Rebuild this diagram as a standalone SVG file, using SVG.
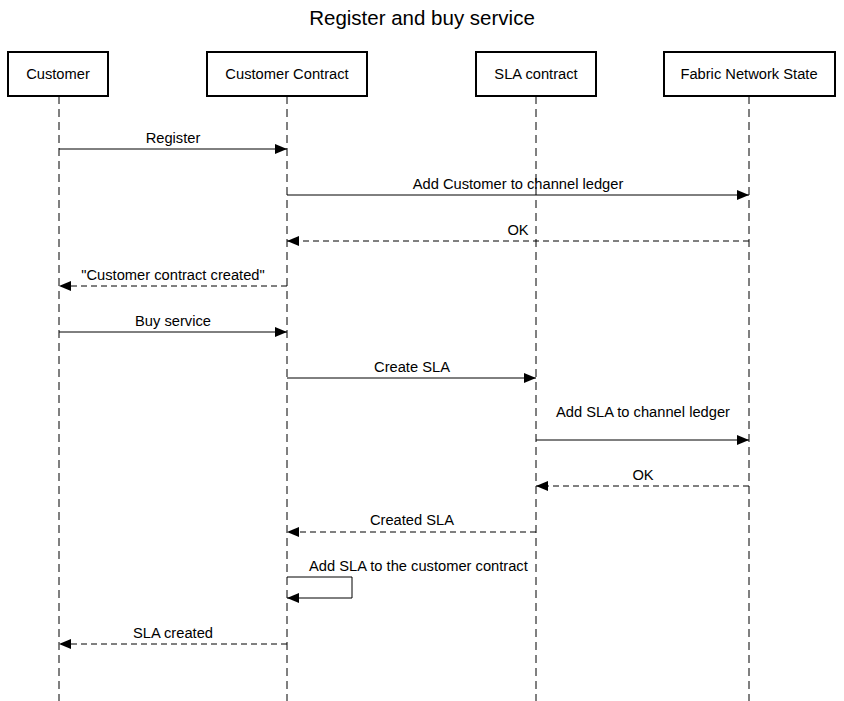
<svg xmlns="http://www.w3.org/2000/svg" width="844" height="701" viewBox="0 0 844 701">
  <style>
    text { font-family: "Liberation Sans", Arial, sans-serif; fill: #000; }
    .title { font-size: 20.5px; text-anchor: middle; }
    .lbl { font-size: 14.7px; }
    .mid { text-anchor: middle; }
    .box { fill: #fff; stroke: #000; stroke-width: 2; }
    .life { stroke: #000; stroke-width: 1; stroke-dasharray: 8 5; fill: none; }
    .msg { stroke: #000; stroke-width: 1; fill: none; marker-end: url(#head); }
    .ret { stroke-dasharray: 6 4; }
  </style>
  <defs>
    <marker id="head" viewBox="0 0 12 10" refX="12" refY="5" markerWidth="12" markerHeight="10" markerUnits="userSpaceOnUse" orient="auto">
      <path d="M0,0 L12,5 L0,10 Z" fill="#000"/>
    </marker>
  </defs>
  <rect width="844" height="701" fill="#fff"/>
  <text class="title" x="422" y="25">Register and buy service</text>

  <!-- participants and lifelines -->
  <g id="customer">
    <line class="life" x1="59" y1="96" x2="59" y2="701"/>
    <rect class="box" x="8" y="52" width="100" height="44"/>
    <text class="lbl mid" x="58" y="79">Customer</text>
  </g>
  <g id="customer-contract">
    <line class="life" x1="287" y1="96" x2="287" y2="701"/>
    <rect class="box" x="207" y="52" width="160" height="44"/>
    <text class="lbl mid" x="287" y="79">Customer Contract</text>
  </g>
  <g id="sla-contract">
    <line class="life" x1="536" y1="96" x2="536" y2="701"/>
    <rect class="box" x="476" y="52" width="120" height="44"/>
    <text class="lbl mid" x="536" y="79">SLA contract</text>
  </g>
  <g id="fabric-network-state">
    <line class="life" x1="749" y1="96" x2="749" y2="701"/>
    <rect class="box" x="664" y="52" width="171" height="44"/>
    <text class="lbl mid" x="749" y="79">Fabric Network State</text>
  </g>

  <!-- messages -->
  <g id="messages">
    <line class="msg" x1="59" y1="149" x2="287" y2="149"/>
    <text class="lbl mid" x="173" y="143">Register</text>

    <line class="msg" x1="287" y1="195" x2="749" y2="195"/>
    <text class="lbl mid" x="518" y="189">Add Customer to channel ledger</text>

    <line class="msg ret" x1="749" y1="241" x2="287" y2="241"/>
    <text class="lbl mid" x="518" y="235">OK</text>

    <line class="msg ret" x1="287" y1="286" x2="59" y2="286"/>
    <text class="lbl mid" x="173" y="280">"Customer contract created"</text>

    <line class="msg" x1="59" y1="332" x2="287" y2="332"/>
    <text class="lbl mid" x="173" y="326">Buy service</text>

    <line class="msg" x1="287" y1="378" x2="536" y2="378"/>
    <text class="lbl mid" x="412" y="372">Create SLA</text>

    <line class="msg" x1="536" y1="440" x2="749" y2="440"/>
    <text class="lbl mid" x="643" y="417">Add SLA to channel ledger</text>

    <line class="msg ret" x1="749" y1="486" x2="536" y2="486"/>
    <text class="lbl mid" x="643" y="480">OK</text>

    <line class="msg ret" x1="536" y1="532" x2="287" y2="532"/>
    <text class="lbl mid" x="412" y="525">Created SLA</text>

    <polyline class="msg" points="287,577 352,577 352,598 287,598"/>
    <text class="lbl" x="309" y="571">Add SLA to the customer contract</text>

    <line class="msg ret" x1="287" y1="644" x2="59" y2="644"/>
    <text class="lbl mid" x="173" y="638">SLA created</text>
  </g>
</svg>
